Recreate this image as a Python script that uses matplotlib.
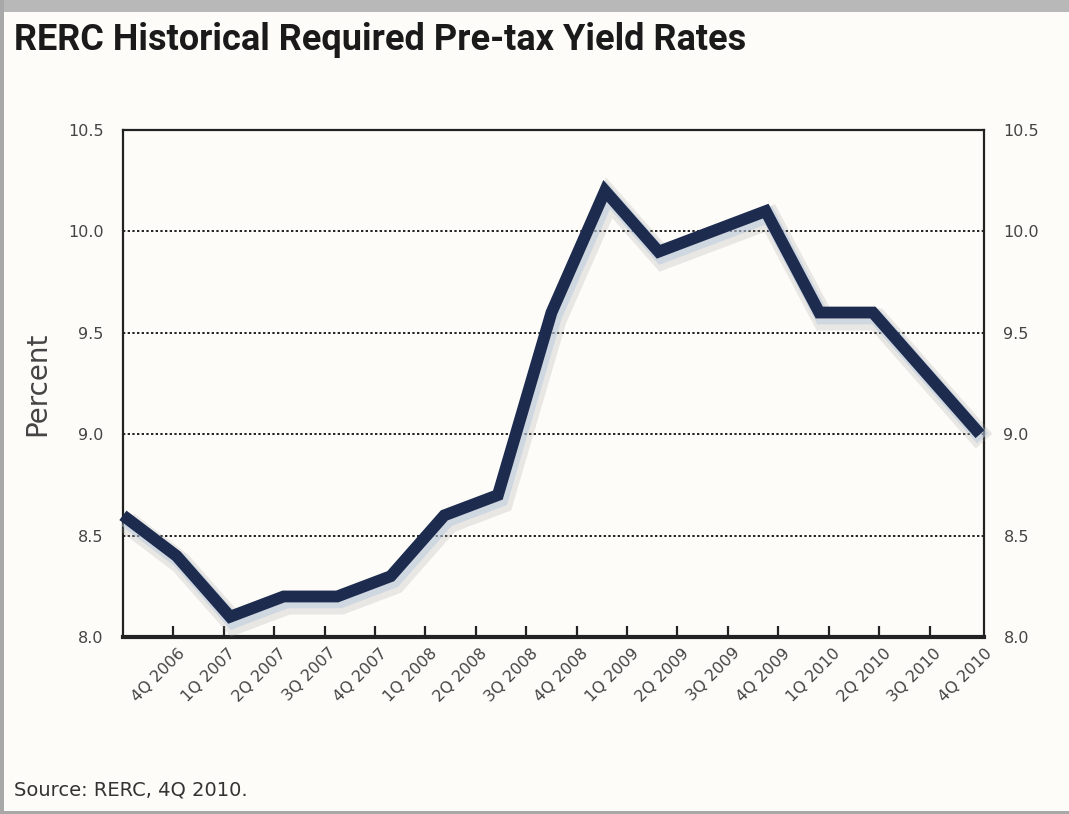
import numpy as np
import matplotlib
matplotlib.use("Agg")
import matplotlib.pyplot as plt
import matplotlib.patheffects as pe
from matplotlib.patches import Rectangle

# Datos
trimestres = ["4Q 2006", "1Q 2007", "2Q 2007", "3Q 2007", "4Q 2007",
              "1Q 2008", "2Q 2008", "3Q 2008", "4Q 2008", "1Q 2009",
              "2Q 2009", "3Q 2009", "4Q 2009", "1Q 2010", "2Q 2010",
              "3Q 2010", "4Q 2010"]
rendimiento = [8.6, 8.4, 8.1, 8.2, 8.2, 8.3, 8.6, 8.7, 9.6, 10.2,
               9.9, 10.0, 10.1, 9.6, 9.6, 9.3, 9.0]
y_ticks = [8.0, 8.5, 9.0, 9.5, 10.0, 10.5]

n = len(trimestres)
fondo = "#fdfcf8"

fig = plt.figure(figsize=(10.69, 8.14), dpi=100, facecolor=fondo)

# marco gris del recuadro
fig.patches.append(Rectangle((0, 0.985), 1, 0.015, transform=fig.transFigure,
                             facecolor="#b8b8b8", edgecolor="none", zorder=0))
fig.patches.append(Rectangle((0, 0), 0.004, 1, transform=fig.transFigure,
                             facecolor="#a8a8a8", edgecolor="none", zorder=0))
fig.patches.append(Rectangle((0, 0), 1, 0.004, transform=fig.transFigure,
                             facecolor="#a8a8a8", edgecolor="none", zorder=0))

ax = fig.add_axes([0.115, 0.2174, 0.8055, 0.6229])
ax.set_facecolor(fondo)

# los puntos ocupan todo el ancho, las categorias son n intervalos
x = np.arange(n) * n / (n - 1)
ax.plot(x, rendimiento, color="#1c2b4e", lw=8.5, solid_joinstyle="miter",
        solid_capstyle="butt", zorder=5, clip_on=False,
        path_effects=[pe.SimpleLineShadow(offset=(3, -5), shadow_color="#a0a0a0",
                                          alpha=0.22, linewidth=16),
                      pe.SimpleLineShadow(offset=(2, -3), shadow_color="#b8c8e0",
                                          alpha=0.5, linewidth=11),
                      pe.Normal()])

ax.set_xlim(0, n)
ax.set_ylim(8.0, 10.5)

ax.set_xticks(np.arange(1, n))
ax.set_xticklabels([])
ax.set_xticks(np.arange(1, n + 1) + 0.08, minor=True)
ax.set_xticklabels(trimestres, minor=True, rotation=45, ha="right",
                   rotation_mode="anchor", fontsize=11.5, color="#444444")
ax.tick_params(axis="x", which="major", direction="in", length=8, width=1.6,
               color="#222222")
ax.tick_params(axis="x", which="minor", length=0, pad=6)

ax.set_yticks(y_ticks)
ax.set_yticklabels(["{:.1f}".format(v) for v in y_ticks], fontsize=11.5,
                   color="#444444")
ax.tick_params(axis="y", length=0, pad=14, labelright=True)

for v in y_ticks[1:-1]:
    ax.axhline(v, color="#222222", lw=1.4, ls=(0, (1.2, 1.2)), zorder=2)

for lado in ["left", "right", "top"]:
    ax.spines[lado].set_linewidth(1.6)
    ax.spines[lado].set_color("#222222")
ax.spines["bottom"].set_linewidth(3)
ax.spines["bottom"].set_color("#222222")

ax.set_ylabel("Percent", fontsize=20, color="#444444")
ax.yaxis.set_label_coords(-0.083, 0.5)

fig.text(0.013, 0.951, "RERC Historical Required Pre-tax Yield Rates",
         fontsize=26, fontweight="bold", family="Roboto",
         color="#1a1a1a", va="center")
fig.text(0.013, 0.029, "Source: RERC, 4Q 2010.", fontsize=14, color="#333333",
         va="center")

fig.savefig("out.png", dpi=100, facecolor=fondo)
